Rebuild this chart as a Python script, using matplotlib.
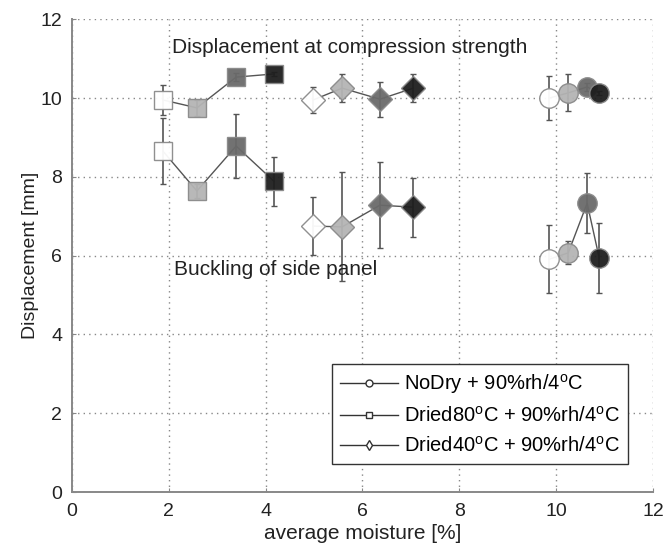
import numpy as np
import matplotlib.pyplot as plt
from matplotlib.lines import Line2D

plt.rcParams['font.family'] = ['Liberation Sans', 'DejaVu Sans']
plt.rcParams['mathtext.fontset'] = 'custom'
plt.rcParams['mathtext.rm'] = 'Liberation Sans'

# moisture [%] and displacement [mm], four conditioning steps per series
fills = ['white', '#b4b4b4', '#6a6a6a', '#1e1e1e']

nodry_x = [9.86, 10.25, 10.64, 10.89]
nodry_top = [10.0, 10.13, 10.28, 10.13]
nodry_top_err = [0.56, 0.47, 0.1, 0.05]
nodry_low = [5.91, 6.07, 7.33, 5.94]
nodry_low_err = [0.86, 0.29, 0.76, 0.88]

d80_x = [1.88, 2.58, 3.39, 4.17]
d80_top = [9.95, 9.75, 10.53, 10.61]
d80_top_err = [0.39, 0.2, 0.1, 0.05]
d80_low = [8.65, 7.64, 8.78, 7.89]
d80_low_err = [0.84, 0.19, 0.81, 0.62]

d40_x = [4.98, 5.58, 6.36, 7.05]
d40_top = [9.95, 10.25, 9.97, 10.25]
d40_top_err = [0.34, 0.36, 0.44, 0.36]
d40_low = [6.75, 6.73, 7.28, 7.23]
d40_low_err = [0.74, 1.38, 1.09, 0.75]

fig = plt.figure(figsize=(6.64, 5.48), dpi=100)
ax = fig.add_axes([0.1084, 0.102, 0.875, 0.863])

gray = '#555555'
series = [
    (nodry_x, nodry_top, nodry_top_err, nodry_low, nodry_low_err, 'o', 14),
    (d80_x, d80_top, d80_top_err, d80_low, d80_low_err, 's', 13),
    (d40_x, d40_top, d40_top_err, d40_low, d40_low_err, 'D', 12),
]
for xs, top, top_err, low, low_err, mk, ms in series:
    for ys, es in [(top, top_err), (low, low_err)]:
        ax.errorbar(xs, ys, yerr=es, color=gray, lw=1.0, capsize=2.5,
                    elinewidth=1.2, zorder=2)
        for x, y, c in zip(xs, ys, fills):
            ax.plot(x, y, marker=mk, ms=ms, mfc=c, mec='#8a8a8a', mew=1.0,
                    ls='none', zorder=3, alpha=0.95)

ax.text(2.07, 11.29, 'Displacement at compression strength', fontsize=15,
        va='center', color='#222222')
ax.text(2.11, 5.66, 'Buckling of side panel', fontsize=15,
        va='center', color='#222222')

ax.set_xlim(0, 12)
ax.set_ylim(0, 12)
ax.set_xticks(np.arange(0, 13, 2))
ax.set_yticks(np.arange(0, 13, 2))
ax.grid(True, ls=(0, (1, 3)), color='#888888', lw=1.0)
ax.set_axisbelow(True)
ax.spines['top'].set_visible(False)
ax.spines['right'].set_visible(False)
for s in ['left', 'bottom']:
    ax.spines[s].set_color('#888888')
    ax.spines[s].set_linewidth(1.4)
ax.tick_params(direction='in', labelsize=14, colors='#888888',
               labelcolor='#222222', length=3)
ax.tick_params(axis='x', pad=8)
ax.tick_params(axis='y', pad=7)
ax.set_xlabel('average moisture [%]', fontsize=15, color='#222222', labelpad=3)
ax.set_ylabel('Displacement [mm]', fontsize=14, color='#222222', labelpad=1)

handles = [
    Line2D([], [], color='#333333', lw=1, marker='o', ms=5, mfc='white', mec='#333333'),
    Line2D([], [], color='#333333', lw=1, marker='s', ms=5, mfc='white', mec='#333333'),
    Line2D([], [], color='#333333', lw=1, marker='d', ms=5, mfc='white', mec='#333333'),
]
labels = [r'NoDry + 90%rh/4$^{\rm o}$C',
          r'Dried80$^{\rm o}$C + 90%rh/4$^{\rm o}$C',
          r'Dried40$^{\rm o}$C + 90%rh/4$^{\rm o}$C']
leg = ax.legend(handles, labels, loc='lower right', bbox_to_anchor=(0.957, 0.059),
                fontsize=14.5, frameon=True, fancybox=False, framealpha=1,
                edgecolor='#333333', handlelength=2.9, borderpad=0.4,
                labelspacing=0.5, handletextpad=0.3, borderaxespad=0)
leg.get_frame().set_linewidth(1.0)

fig.savefig('out.png', dpi=100)
